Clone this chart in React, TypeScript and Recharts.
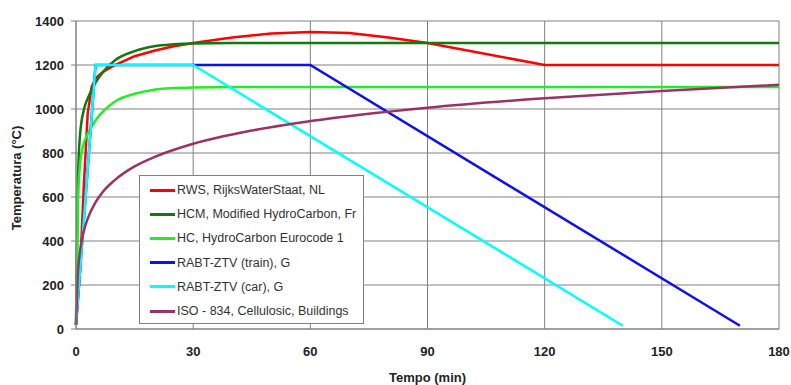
import { LineChart, Line, XAxis, YAxis, CartesianGrid } from "recharts";

// fire curves, time in minutes, temperature in °C
const rws = [
  { t: 0, v: 20 }, { t: 1, v: 250 }, { t: 2, v: 650 }, { t: 3, v: 980 }, { t: 4, v: 1100 },
  { t: 5, v: 1140 }, { t: 7, v: 1170 }, { t: 10, v: 1200 }, { t: 15, v: 1240 }, { t: 20, v: 1265 },
  { t: 25, v: 1285 }, { t: 30, v: 1300 }, { t: 40, v: 1325 }, { t: 50, v: 1343 }, { t: 60, v: 1350 },
  { t: 70, v: 1345 }, { t: 80, v: 1325 }, { t: 90, v: 1300 }, { t: 120, v: 1200 }, { t: 180, v: 1200 },
];
const hcm = [
  { t: 0, v: 20 }, { t: 0.5, v: 670 }, { t: 1, v: 876 }, { t: 2, v: 996 }, { t: 3, v: 1048 },
  { t: 5, v: 1120 }, { t: 7, v: 1170 }, { t: 10, v: 1222 }, { t: 15, v: 1263 }, { t: 20, v: 1285 },
  { t: 25, v: 1294 }, { t: 30, v: 1298 }, { t: 40, v: 1300 }, { t: 180, v: 1300 },
];
const hc = [
  { t: 0, v: 20 }, { t: 0.5, v: 569 }, { t: 1, v: 743 }, { t: 2, v: 844 }, { t: 3, v: 887 },
  { t: 5, v: 948 }, { t: 7, v: 990 }, { t: 10, v: 1034 }, { t: 15, v: 1069 }, { t: 20, v: 1088 },
  { t: 25, v: 1095 }, { t: 30, v: 1098 }, { t: 40, v: 1100 }, { t: 180, v: 1100 },
];
const rabtTrain = [
  { t: 0, v: 20 }, { t: 5, v: 1200 }, { t: 60, v: 1200 }, { t: 170, v: 15 },
];
const rabtCar = [
  { t: 0, v: 20 }, { t: 5, v: 1200 }, { t: 30, v: 1200 }, { t: 140, v: 15 },
];
const iso834 = [
  { t: 0, v: 20 }, { t: 0.5, v: 258 }, { t: 1, v: 349 }, { t: 2, v: 445 }, { t: 3, v: 502 },
  { t: 5, v: 576 }, { t: 7, v: 626 }, { t: 10, v: 678 }, { t: 15, v: 739 }, { t: 20, v: 781 },
  { t: 30, v: 842 }, { t: 45, v: 902 }, { t: 60, v: 945 }, { t: 90, v: 1006 }, { t: 120, v: 1049 },
  { t: 150, v: 1082 }, { t: 180, v: 1110 },
];

const xTicks = [0, 30, 60, 90, 120, 150, 180];
const yTicks = [0, 200, 400, 600, 800, 1000, 1200, 1400];

const series = [
  { name: "RWS, RijksWaterStaat, NL", data: rws, color: "#ff0000", curve: "linear" },
  { name: "HCM, Modified HydroCarbon, Fr", data: hcm, color: "#107a10", curve: "monotone" },
  { name: "HC, HydroCarbon Eurocode 1", data: hc, color: "#22ee22", curve: "monotone" },
  { name: "RABT-ZTV (train), G", data: rabtTrain, color: "#1010ee", curve: "linear" },
  { name: "RABT-ZTV (car), G", data: rabtCar, color: "#00ffff", curve: "linear" },
  { name: "ISO - 834, Cellulosic, Buildings", data: iso834, color: "#993366", curve: "monotone" },
];

const font = "'Liberation Sans', Arial, sans-serif";
const gridColor = "#808080";
const axisText = { fill: "#222", fontSize: 13, fontWeight: 700, fontFamily: font };

function LegendBox() {
  return (
    <div
      style={{
        position: "absolute",
        left: 139,
        top: 175,
        width: 225,
        height: 149,
        border: `1px solid ${gridColor}`,
        background: "#fff",
        fontFamily: font,
        fontSize: 12.5,
        color: "#333",
        paddingTop: 2,
        boxSizing: "border-box",
      }}
    >
      {series.map((s) => (
        <div key={s.name} style={{ display: "flex", alignItems: "center", height: 24.2 }}>
          <div style={{ width: 25, height: 3, background: s.color, marginLeft: 10, marginRight: 2 }} />
          <span style={{ whiteSpace: "nowrap" }}>{s.name}</span>
        </div>
      ))}
    </div>
  );
}

export default function App() {
  return (
    <div style={{ position: "relative", width: 791, height: 385, background: "#fff" }}>
      <style>{`body{margin:0}`}</style>
      <LineChart width={791} height={385} margin={{ top: 21, right: 12, bottom: 0, left: 10 }}>
        <CartesianGrid stroke={gridColor} strokeWidth={1} />
        <XAxis
          type="number"
          dataKey="t"
          domain={[0, 180]}
          ticks={xTicks}
          tickLine={false}
          tickMargin={12}
          height={56}
          axisLine={{ stroke: gridColor }}
          tick={axisText}
          label={{ value: "Tempo (min)", position: "insideBottom", offset: 3, style: axisText }}
        />
        <YAxis
          type="number"
          domain={[0, 1400]}
          ticks={yTicks}
          width={66}
          tickSize={5}
          tickMargin={7}
          tickLine={{ stroke: gridColor }}
          axisLine={{ stroke: gridColor }}
          tick={axisText}
          label={{
            content: () => (
              <text
                x={18}
                y={178}
                transform="rotate(-90 18 178)"
                textAnchor="middle"
                dominantBaseline="middle"
                style={axisText}
              >
                Temperatura (°C)
              </text>
            ),
          }}
        />
        {series.map((s) => (
          <Line
            key={s.name}
            name={s.name}
            data={s.data}
            dataKey="v"
            type={s.curve as "linear" | "monotone"}
            stroke={s.color}
            strokeWidth={2.5}
            dot={false}
            isAnimationActive={false}
          />
        ))}
      </LineChart>
      <LegendBox />
    </div>
  );
}
